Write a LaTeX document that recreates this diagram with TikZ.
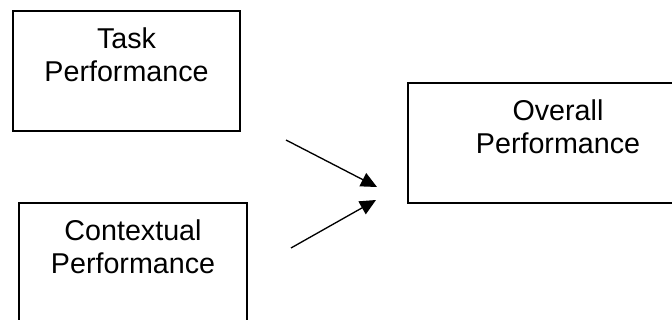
\documentclass[tikz,border=0pt]{standalone}
\usepackage{fontspec}
\setmainfont{Liberation Sans}
\usetikzlibrary{arrows.meta}
\begin{document}
\begin{tikzpicture}[x=0.75pt,y=-0.75pt,
    perfbox/.style={draw, line width=1.5pt, anchor=north west, inner sep=0pt,
      text width=#1, align=center, font=\fontsize{21.5}{24.75}\selectfont,
      text height=28.5pt, text depth=61.5pt},
    perfarrow/.style={line width=1pt, -{Triangle[length=12pt,width=11pt]}}]
  \useasboundingbox (0,0) rectangle (672,320);
  \clip (0,0) rectangle (672,320);

  % Drawing the three boxes
  \node [perfbox=170.25pt] (task) at (12,10) {Task\\Performance};
  \node [perfbox=171pt] (contextual) at (18,202) {Contextual\\Performance};
  \node [perfbox=225pt] (overall) at (407,82) {Overall\\Performance};

  % Marking arrow ends
  \coordinate (task tail) at (286,140);
  \coordinate (task tip) at (377,187);
  \coordinate (contextual tail) at (291,248);
  \coordinate (contextual tip) at (376,200);

  % Drawing arrows
  \draw [perfarrow] (task tail) -- (task tip);
  \draw [perfarrow] (contextual tail) -- (contextual tip);
\end{tikzpicture}
\end{document}
